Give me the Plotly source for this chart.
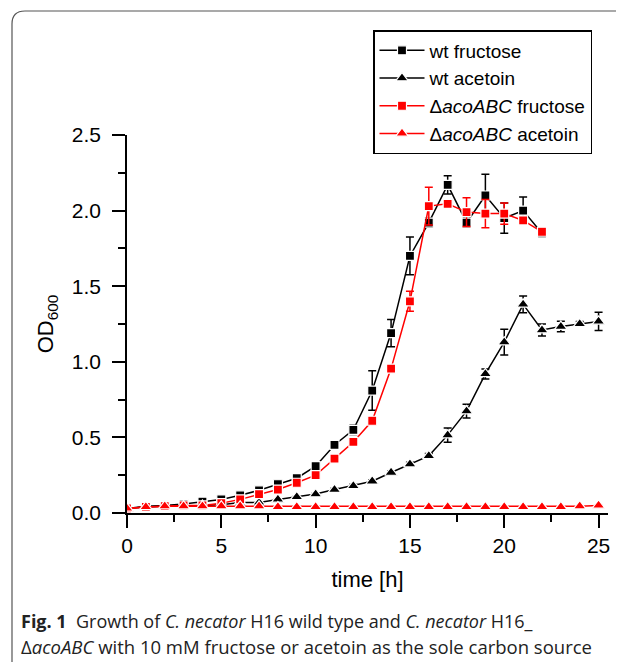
import plotly.graph_objects as go

# ---------------- data ----------------
t_fru = list(range(0, 23))
t_ace = list(range(0, 26))

wt_fructose = [0.03, 0.045, 0.05, 0.06, 0.075, 0.09, 0.117, 0.15, 0.19, 0.23, 0.31, 0.45,
               0.55, 0.81, 1.19, 1.70, 1.92, 2.17, 1.92, 2.10, 1.95, 2.00, 1.85]
wt_fructose_err = [0.005, 0.005, 0.005, 0.005, 0.005, 0.005, 0.005, 0.01, 0.01, 0.01, 0.015, 0.02,
                   0.03, 0.13, 0.09, 0.125, 0.03, 0.06, 0.03, 0.14, 0.10, 0.09, 0.025]

wt_acetoin = [0.03, 0.04, 0.045, 0.045, 0.05, 0.055, 0.07, 0.07, 0.09, 0.106, 0.125, 0.155,
              0.18, 0.21, 0.268, 0.323, 0.378, 0.515, 0.674, 0.92, 1.13, 1.38, 1.21, 1.233,
              1.251, 1.267]
wt_acetoin_err = [0.003, 0.003, 0.003, 0.003, 0.003, 0.003, 0.003, 0.003, 0.005, 0.005, 0.005,
                  0.008, 0.01, 0.01, 0.01, 0.012, 0.015, 0.047, 0.045, 0.033, 0.085, 0.055,
                  0.04, 0.035, 0.015, 0.06]

ko_fructose = [0.03, 0.04, 0.045, 0.05, 0.05, 0.065, 0.09, 0.125, 0.155, 0.20, 0.25, 0.36,
               0.47, 0.61, 0.955, 1.40, 2.03, 2.045, 1.99, 1.98, 1.98, 1.935, 1.86]
ko_fructose_err = [0.003, 0.003, 0.003, 0.003, 0.003, 0.003, 0.005, 0.005, 0.005, 0.008, 0.01,
                   0.01, 0.01, 0.015, 0.015, 0.066, 0.125, 0.02, 0.095, 0.094, 0.07, 0.02, 0.02]

ko_acetoin = [0.03, 0.04, 0.045, 0.045, 0.045, 0.045, 0.045, 0.045, 0.04, 0.04, 0.04, 0.04,
              0.04, 0.04, 0.04, 0.04, 0.04, 0.04, 0.04, 0.04, 0.04, 0.04, 0.04, 0.04, 0.045, 0.05]
ko_acetoin_err = [0.002] * 26

names = ["wt fructose", "wt acetoin", "\u0394<i>acoABC</i> fructose", "\u0394<i>acoABC</i> acetoin"]

x_ticks = [0, 5, 10, 15, 20, 25]
y_ticks = [0.0, 0.5, 1.0, 1.5, 2.0, 2.5]
y_ticklabels = ["0.0", "0.5", "1.0", "1.5", "2.0", "2.5"]

caption_line1 = "<b>Fig. 1</b>  Growth of <i>C. necator</i> H16 wild type and <i>C. necator</i> H16_"
caption_line2 = "\u0394<i>acoABC</i> with 10 mM fructose or acetoin as the sole carbon source"

# ---------------- layout geometry ----------------
# the page body has an 8px margin, so the figure is drawn 8px right/down
OFF = 8
W, H = 624 - OFF, 662 - OFF
L, R, T, B = 119, 16, 127, 149
PW, PH = W - L - R, H - T - B


def px(x_ref):
    return (x_ref - OFF - L) / PW


def py(y_ref):
    return (H - B - (y_ref - OFF)) / PH


FONT = "Arial, Liberation Sans, sans-serif"
CAPFONT = "Open Sans, Noto Sans, sans-serif"

fig = go.Figure()

series = [
    (t_fru, wt_fructose, wt_fructose_err, "black", "square", 9),
    (t_ace, wt_acetoin, wt_acetoin_err, "black", "triangle-up", 11),
    (t_fru, ko_fructose, ko_fructose_err, "red", "square", 9),
    (t_ace, ko_acetoin, ko_acetoin_err, "red", "triangle-up", 11),
]
for (xs, ys, es, col, sym, size), nm in zip(series, names):
    fig.add_trace(go.Scatter(
        x=xs, y=ys, name=nm, mode="lines+markers",
        line=dict(color=col, width=1.5),
        marker=dict(symbol=sym, size=size, color=col, line=dict(color="white", width=1.2)),
        error_y=dict(type="data", array=es, visible=True, color=col, thickness=1.5, width=4),
    ))

axis_common = dict(
    showline=True, linecolor="black", linewidth=1.5, mirror=False,
    ticks="outside", ticklen=13, tickwidth=1.5, tickcolor="black",
    showgrid=False, zeroline=False,
    tickfont=dict(family=FONT, size=21, color="black"),
)

fig.update_xaxes(
    range=[0, 25.5], tickvals=x_ticks,
    minor=dict(ticks="outside", ticklen=7, tickwidth=1.5, tickcolor="black", dtick=2.5, tick0=0),
    title=dict(text="time [h]", font=dict(family=FONT, size=22, color="black"), standoff=16),
    **axis_common,
)
fig.update_yaxes(
    range=[0, 2.5], tickvals=y_ticks, ticktext=y_ticklabels, ticklabelstandoff=7,
    minor=dict(ticks="outside", ticklen=7, tickwidth=1.5, tickcolor="black", dtick=0.25, tick0=0),
    title=dict(text="OD<sub>600</sub>", font=dict(family=FONT, size=22, color="black"), standoff=12),
    **axis_common,
)

fig.update_layout(
    width=W, height=H,
    margin=dict(l=L, r=R, t=T, b=B, autoexpand=False),
    plot_bgcolor="white", paper_bgcolor="white",
    font=dict(family=FONT, color="black"),
    showlegend=True,
    legend=dict(
        x=px(373), y=py(30), xanchor="left", yanchor="top",
        bordercolor="black", borderwidth=1.5, bgcolor="white",
        font=dict(family=FONT, size=19, color="black"),
        tracegroupgap=0, itemsizing="trace", itemwidth=45,
    ),
    shapes=[dict(
        type="path", xref="paper", yref="paper",
        path=(f"M {px(12)},{py(680)} L {px(12)},{py(24)} "
              f"Q {px(12)},{py(11)} {px(25)},{py(11)} L {px(640)},{py(11)}"),
        line=dict(color="#555555", width=1.2),
    )],
    annotations=[
        dict(text=caption_line1, xref="paper", yref="paper", x=px(19), y=py(621),
             xanchor="left", yanchor="middle", showarrow=False,
             font=dict(family=CAPFONT, size=18, color="#222222")),
        dict(text=caption_line2, xref="paper", yref="paper", x=px(19), y=py(646),
             xanchor="left", yanchor="middle", showarrow=False,
             font=dict(family=CAPFONT, size=18.5, color="#222222")),
    ],
)

fig.write_html("out.html")
